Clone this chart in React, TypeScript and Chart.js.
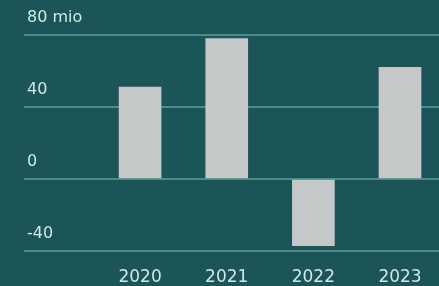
import React, { useEffect, useRef } from "react";
import { Chart, registerables } from "chart.js";

Chart.register(...registerables);

const years = [2020, 2021, 2022, 2023];
const values = [51, 78, -37, 62];
const yTicks = [-40, 0, 40, 80];
const yTickLabels = ["-40", "0", "40", "80 mio"];

const BG = "#1c5558";
const TEXT = "#cfe8e4";
const GRID = "#4b8b87";
const BAR = "#c4c8c9";
const FONT = "'DejaVu Sans', sans-serif";

export default function App() {
  const ref = useRef<HTMLCanvasElement | null>(null);

  useEffect(() => {
    if (!ref.current) return;
    const chart = new Chart(ref.current, {
      type: "bar",
      data: {
        datasets: [
          {
            data: years.map((y, i) => ({ x: y, y: values[i] })),
            backgroundColor: BAR,
            borderWidth: 0,
            barThickness: 42,
          },
        ],
      },
      options: {
        responsive: false,
        animation: false,
        maintainAspectRatio: false,
        layout: { padding: { left: 24, top: 35, right: 0, bottom: 0 } },
        plugins: { legend: { display: false }, tooltip: { enabled: false } },
        scales: {
          x: {
            type: "linear",
            offset: false,
            min: 2018.66,
            max: 2023.45,
            afterBuildTicks: (scale: any) => {
              scale.ticks = years.map((v) => ({ value: v }));
            },
            afterFit: (scale: any) => {
              scale.height = 35;
            },
            grid: { display: false },
            border: { display: false },
            ticks: {
              color: TEXT,
              font: { family: FONT, size: 17 },
              padding: 8,
              maxRotation: 0,
              autoSkip: false,
              callback: (v: any) => String(v),
            },
          },
          y: {
            min: -40,
            max: 80,
            afterBuildTicks: (scale: any) => {
              scale.ticks = yTicks.map((v) => ({ value: v }));
            },
            afterFit: (scale: any) => {
              scale.width = 0;
            },
            grid: { color: GRID, lineWidth: 2, drawTicks: false },
            border: { display: false },
            ticks: {
              mirror: true,
              padding: 3,
              labelOffset: -17,
              color: TEXT,
              font: { family: FONT, size: 16 },
              callback: (v: any) => {
                const i = yTicks.indexOf(Number(v));
                return i >= 0 ? yTickLabels[i] : "";
              },
            },
          },
        },
      },
    });
    return () => chart.destroy();
  }, []);

  return (
    <div
      style={{
        position: "fixed",
        left: 0,
        top: 0,
        width: 439,
        height: 286,
        background: BG,
      }}
    >
      <canvas ref={ref} width={439} height={286} />
    </div>
  );
}
